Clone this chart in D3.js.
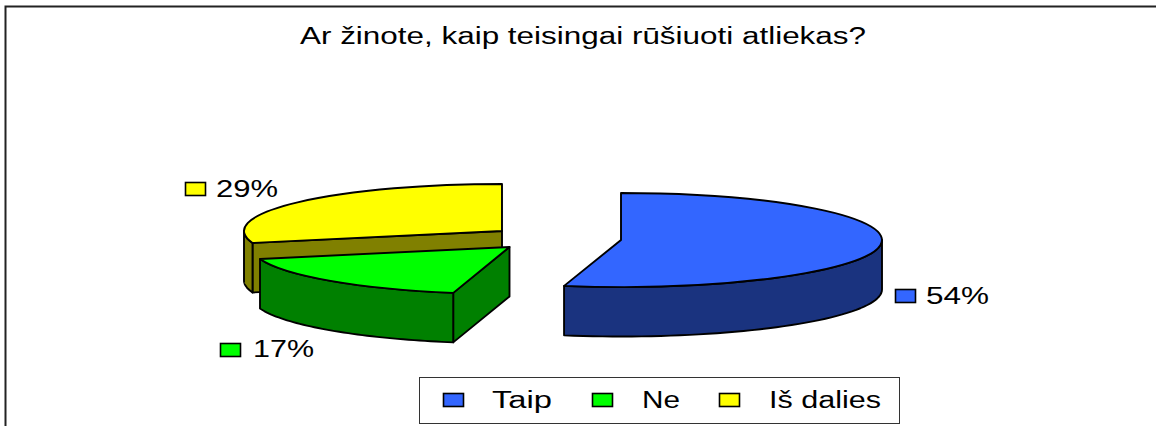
<!DOCTYPE html>
<html><head><meta charset="utf-8">
<script src="https://cdn.jsdelivr.net/npm/d3@7"></script>
<style>html,body{margin:0;padding:0;background:#fff}svg{display:block}text{font-family:"Liberation Sans",Arial,sans-serif;fill:#000}</style>
</head><body><svg id="c" width="1156" height="426"></svg>
<script>
const title = "Ar žinote, kaip teisingai rūšiuoti atliekas?";
const categories = ["Taip", "Ne", "Iš dalies"];
const values = [53.5, 17.4, 29.1];
const topColors = ["#3366ff", "#00ff00", "#ffff00"];
const sideColors = ["#1a337f", "#008000", "#808000"];

// layout
const W = 1156, H = 426, RY = 47, DEPTH = 49.5;
const radii = [261, 258, 258];
const centres = [[621, 240], [509.5, 247], [502, 231]];
const valueLabels = [
  {key:[895,289,20,13], x:926, y:304, w:63},
  {key:[220,343,20,13], x:253, y:357, w:61},
  {key:[185,182,20,13], x:216, y:196.5, w:62}
];
const legendBox = [419, 377, 480, 46];
const legendItems = [
  {key:443, x:492, w:60},
  {key:592, x:642, w:38},
  {key:719, x:769, w:112}
];

const svg = d3.select("#c");
svg.append("path").attr("d", `M5.5,426V6.5H${W}`).attr("fill","none").attr("stroke","#222").attr("stroke-width",2);

svg.append("text").attr("x",300).attr("y",43.5).attr("font-size",23)
  .attr("textLength",566).attr("lengthAdjust","spacingAndGlyphs").text(title);

const pie = d3.pie().sort(null).value(d=>d);
const arcs = pie(values);
const arcGen = d3.arc().innerRadius(0).outerRadius(1);
const line = d3.line();

function pt(c, rx, a){ return [c[0]+rx*Math.sin(a), c[1]-RY*Math.cos(a)]; }
function wall(c, rx, a0, a1){
  const n = 48, top = d3.range(n+1).map(i=>pt(c, rx, a0+(a1-a0)*i/n));
  const bot = top.map(p=>[p[0],p[1]+DEPTH]).reverse();
  return line(top.concat(bot))+"Z";
}
function cut(c, rx, a){
  const p = pt(c,rx,a);
  return line([c,p,[p[0],p[1]+DEPTH],[c[0],c[1]+DEPTH]])+"Z";
}
const HALF = Math.PI/2;
function styled(sel, fill){
  return sel.attr("fill",fill).attr("stroke","#000").attr("stroke-width",1.9).attr("stroke-linejoin","round");
}

// back-to-front order: yellow, green, blue
[2,1,0].forEach(i=>{
  const a = arcs[i], c = centres[i], rx = radii[i], g = svg.append("g");
  // cut face turned towards the viewer (the blue slice's faces are hidden)
  if (i !== 0) styled(g.append("path").attr("d",cut(c,rx,a.startAngle)), sideColors[i]);
  // outer wall: front half of the rim only
  const f0 = Math.max(a.startAngle, HALF), f1 = Math.min(a.endAngle, 3*HALF);
  if (f1 > f0) styled(g.append("path").attr("d",wall(c,rx,f0,f1)), sideColors[i]);
  // top face
  const face = g.append("path").attr("d",arcGen(a))
    .attr("transform",`translate(${c[0]},${c[1]}) scale(${rx},${RY})`)
    .attr("vector-effect","non-scaling-stroke");
  styled(face, topColors[i]);
});

function key(x,y,w,h,fill){
  svg.append("rect").attr("x",x+.5).attr("y",y+.5).attr("width",w).attr("height",h)
    .attr("fill",fill).attr("stroke","#000").attr("stroke-width",1.6);
}
valueLabels.forEach((l,i)=>{
  key(...l.key, topColors[i]);
  svg.append("text").attr("x",l.x).attr("y",l.y).attr("font-size",23)
    .attr("textLength",l.w).attr("lengthAdjust","spacingAndGlyphs").text(Math.round(values[i])+"%");
});

svg.append("rect").attr("x",legendBox[0]+.5).attr("y",legendBox[1]+.5)
  .attr("width",legendBox[2]).attr("height",legendBox[3])
  .attr("fill","#fff").attr("stroke","#333").attr("stroke-width",1);
legendItems.forEach((l,i)=>{
  key(l.key,393,20,13,topColors[i]);
  svg.append("text").attr("x",l.x).attr("y",408).attr("font-size",23)
    .attr("textLength",l.w).attr("lengthAdjust","spacingAndGlyphs").text(categories[i]);
});
</script></body></html>
